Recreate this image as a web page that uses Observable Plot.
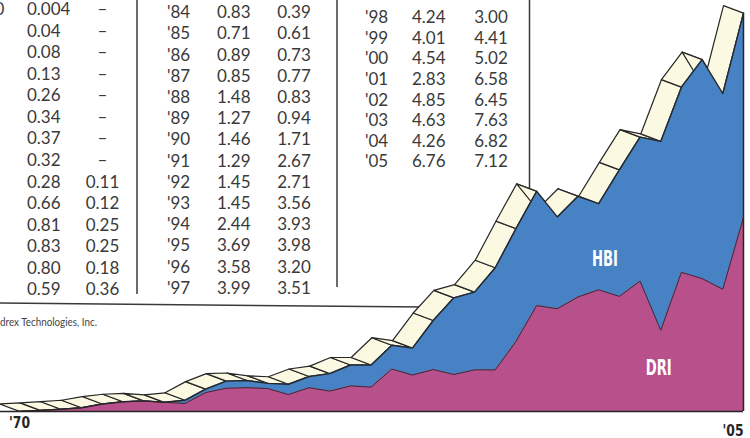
<!DOCTYPE html>
<html><head><meta charset="utf-8">
<script src="https://cdn.jsdelivr.net/npm/d3@7"></script>
<script src="https://cdn.jsdelivr.net/npm/@observablehq/plot@0.6"></script>
<style>
html,body{margin:0;padding:0;background:#fff;}
#chart{position:relative;width:750px;height:438px;overflow:hidden;background:#fff;}
</style></head><body><div id="chart"></div>
<script>
// ---- data ----
const years = [1970,1971,1972,1973,1974,1975,1976,1977,1978,1979,1980,1981,1982,1983,
               1984,1985,1986,1987,1988,1989,1990,1991,1992,1993,1994,1995,1996,1997,
               1998,1999,2000,2001,2002,2003,2004,2005];
const yearLabels = ["1970","'71","'72","'73","'74","'75","'76","'77","'78","'79","'80","'81","'82","'83",
                    "'84","'85","'86","'87","'88","'89","'90","'91","'92","'93","'94","'95","'96","'97",
                    "'98","'99","'00","'01","'02","'03","'04","'05"];
const dri = [0.004,0.04,0.08,0.13,0.26,0.34,0.37,0.32,0.28,0.66,0.81,0.83,0.80,0.59,
             0.83,0.71,0.89,0.85,1.48,1.27,1.46,1.29,1.45,1.45,2.44,3.69,3.58,3.99,
             4.24,4.01,4.54,2.83,4.85,4.63,4.26,6.76];
const hbi = [null,null,null,null,null,null,null,null,0.11,0.12,0.25,0.25,0.18,0.36,
             0.39,0.61,0.73,0.77,0.83,0.94,1.71,2.67,2.71,3.56,3.93,3.98,3.20,3.51,
             3.00,4.41,5.02,6.58,6.45,7.63,6.82,7.12];
const driText = ["0.004","0.04","0.08","0.13","0.26","0.34","0.37","0.32","0.28","0.66","0.81","0.83","0.80","0.59",
                 "0.83","0.71","0.89","0.85","1.48","1.27","1.46","1.29","1.45","1.45","2.44","3.69","3.58","3.99",
                 "4.24","4.01","4.54","2.83","4.85","4.63","4.26","6.76"];
const hbiText = ["–","–","–","–","–","–","–","–","0.11","0.12","0.25","0.25","0.18","0.36",
                 "0.39","0.61","0.73","0.77","0.83","0.94","1.71","2.67","2.71","3.56","3.93","3.98","3.20","3.51",
                 "3.00","4.41","5.02","6.58","6.45","7.63","6.82","7.12"];
const seriesLabels = ["HBI","DRI"];
const labelYears = [1998.3, 2000.9];
const labelValues = [5.33, 1.5];
const source = "drex Technologies, Inc.";

// ---- table built from arrays ----
const rows = years.map((yr,i) => ({year: yr, label: yearLabels[i], dri: dri[i], hbi: hbi[i] ?? 0,
  total: dri[i] + (hbi[i] ?? 0), driT: driText[i], hbiT: hbiText[i]}));

// scale geometry
const X0 = 19, X1 = 743, Y0 = 411, YMAX = 14.32;
const pxYear = (X1 - X0) / (years[years.length-1] - years[0]);
const pxUnit = Y0 / YMAX;
const OX = -20 / pxYear, OY = 7.5 / pxUnit;   // ribbon depth offset

const quads = [];
for (let i = 0; i < rows.length - 1; i++) {
  const a = rows[i], b = rows[i+1];
  quads.push({s:i, x:a.year, y:a.total});
  quads.push({s:i, x:b.year, y:b.total});
  quads.push({s:i, x:b.year+OX, y:b.total+OY});
  quads.push({s:i, x:a.year+OX, y:a.total+OY});
}
const labels = seriesLabels.map((t,i)=>({t, x:labelYears[i], y:labelValues[i]}));

const BLUE = "#4682c4", MAG = "#b8508b", CREAM = "#fcf9e3", INK = "#262626";

const svg = Plot.plot({
  width: 750, height: 438, margin: 0,
  x: {domain: [years[0], years[years.length-1]], range: [X0, X1], axis: null},
  y: {domain: [0, YMAX], range: [Y0, 0], axis: null},
  style: {background: "transparent", overflow: "visible"},
  marks: [
    Plot.line(quads, {x:"x", y:"y", z:"s", fill: CREAM, stroke: INK, strokeWidth: 1.2,
      curve: "linear-closed", strokeLinejoin: "round"}),
    Plot.areaY(rows, {x:"year", y1: 0, y2:"total", fill: BLUE}),
    Plot.areaY(rows, {x:"year", y1: 0, y2:"dri", fill: MAG}),
    Plot.line(rows, {x:"year", y:"dri", stroke:"#3a2a35", strokeWidth: 1}),
    Plot.line(rows, {x:"year", y:"total", stroke: INK, strokeWidth: 1.4}),
    Plot.ruleY([0], {x1: years[0]-1, x2: years[years.length-1], stroke: INK, strokeWidth: 1.5}),
    Plot.ruleX([rows[rows.length-1]], {x:"year", y1: 0, y2:"total", stroke: INK, strokeWidth: 1.5}),
    Plot.text(labels, {x:"x", y:"y", text:"t", fill:"white", fontWeight:"bold", fontSize: 22,
      fontFamily:"DejaVu Sans Condensed"}),
    Plot.text([yearLabels[0].replace("19","'")], {x: years[0], y: 0, dy: 12, fill: INK, fontWeight:"bold",
      fontSize: 15, fontFamily:"DejaVu Sans Condensed"}),
    Plot.text([yearLabels[yearLabels.length-1]], {x: years[years.length-1], y: 0, dy: 20, textAnchor:"end",
      fill: INK, fontWeight:"bold", fontSize: 15, fontFamily:"DejaVu Sans Condensed"})
  ]
});

// squeeze condensed labels
d3.select(svg).selectAll("text").each(function(){
  const t = this.textContent;
  if (t === "HBI" || t === "DRI") d3.select(this).attr("textLength", 26).attr("lengthAdjust","spacingAndGlyphs");
  if (t === "'70" || t === "'05") d3.select(this).attr("textLength", 21).attr("lengthAdjust","spacingAndGlyphs");
});

// table layer underneath chart marks
const g = d3.select(svg).insert("g", ":first-child").attr("class","table").attr("text-anchor","start");
const groups = [
  {from:0, to:14, yx:-35, dx:27, hx:102.5, y0:9, step:21.55},
  {from:14, to:28, yx:167, dx:217, hx:294, y0:12, step:21.2},
  {from:28, to:36, yx:365, dx:412, hx:491, y0:17, step:20.6}
];
const font = "Lato, 'Open Sans', sans-serif";
groups.forEach(gr => {
  rows.slice(gr.from, gr.to).forEach((r, j) => {
    const y = gr.y0 + j*gr.step;
    const add = (x, txt, anchor) => g.append("text").attr("x", x).attr("y", y).attr("dy","0.36em")
      .attr("text-anchor", anchor).attr("font-family", font).attr("font-size", 17)
      .attr("fill", "#3a3a3a").text(txt);
    // year column of the first block lies beyond the cropped left edge; only its wide first label shows
    if (gr.yx >= 0 || r.label.length > 3) add(gr.yx, r.label, "start");
    add(gr.dx, r.driT, "start");
    add(gr.hx, r.hbiT, "middle");
  });
});
const ln = (x1,y1,x2,y2) => g.append("line").attr("x1",x1).attr("y1",y1).attr("x2",x2).attr("y2",y2)
  .attr("stroke","#3a3a3a").attr("stroke-width",1.5);
ln(137, -2, 137, 294);
ln(337, -2, 337, 287);
ln(529.5, -2, 529.5, 308);
ln(-2, 303, 529.5, 308);
g.append("text").attr("x", 0).attr("y", 322).attr("dy","0.35em").attr("text-anchor","start")
  .attr("font-family", font).attr("font-size", 10.5).attr("fill","#444")
  .attr("textLength", 97).attr("lengthAdjust","spacingAndGlyphs")
  .text(source);

document.getElementById("chart").appendChild(svg);
</script>
</body></html>
